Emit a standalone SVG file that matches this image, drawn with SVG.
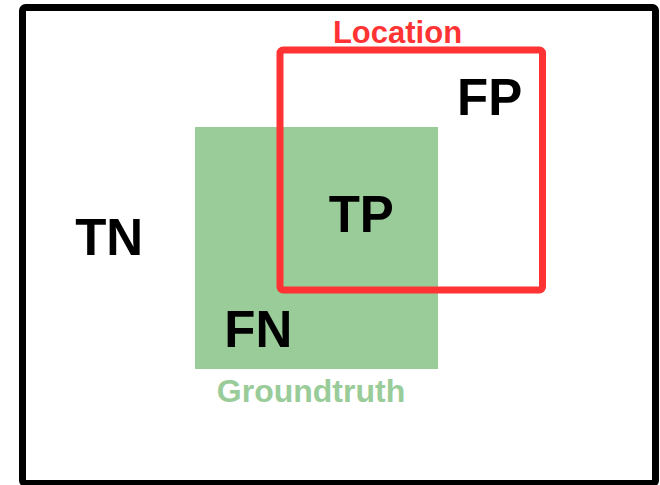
<svg xmlns="http://www.w3.org/2000/svg" width="660" height="485" viewBox="0 0 660 485">
  <style>
    .lbl { font-family: "Liberation Sans", Arial, sans-serif; font-weight: bold; text-anchor: middle; }
    .big { font-size: 51px; fill: #000; }
  </style>
  <rect width="660" height="485" fill="#fff"/>
  <!-- overall frame -->
  <g id="frame">
    <rect x="22.5" y="7.5" width="633" height="476" rx="3" fill="none" stroke="#000" stroke-width="7"/>
  </g>
  <!-- ground-truth region -->
  <g id="groundtruth">
    <rect x="195" y="127" width="243" height="242" fill="#99cc99"/>
    <text class="lbl" x="311" y="401.5" fill="#99cc99" font-size="32">Groundtruth</text>
  </g>
  <!-- predicted location box -->
  <g id="location">
    <rect x="280" y="50" width="262.5" height="240" rx="3" fill="none" stroke="#ff3333" stroke-width="7"/>
    <text class="lbl" x="397.5" y="42.5" fill="#ff3333" font-size="31">Location</text>
  </g>
  <g id="tn"><text class="lbl big" x="109.2" y="255">TN</text></g>
  <g id="tp"><text class="lbl big" x="361.3" y="232.3">TP</text></g>
  <g id="fp"><text class="lbl big" x="489.7" y="115">FP</text></g>
  <g id="fn"><text class="lbl big" x="258.3" y="346.7">FN</text></g>
</svg>
